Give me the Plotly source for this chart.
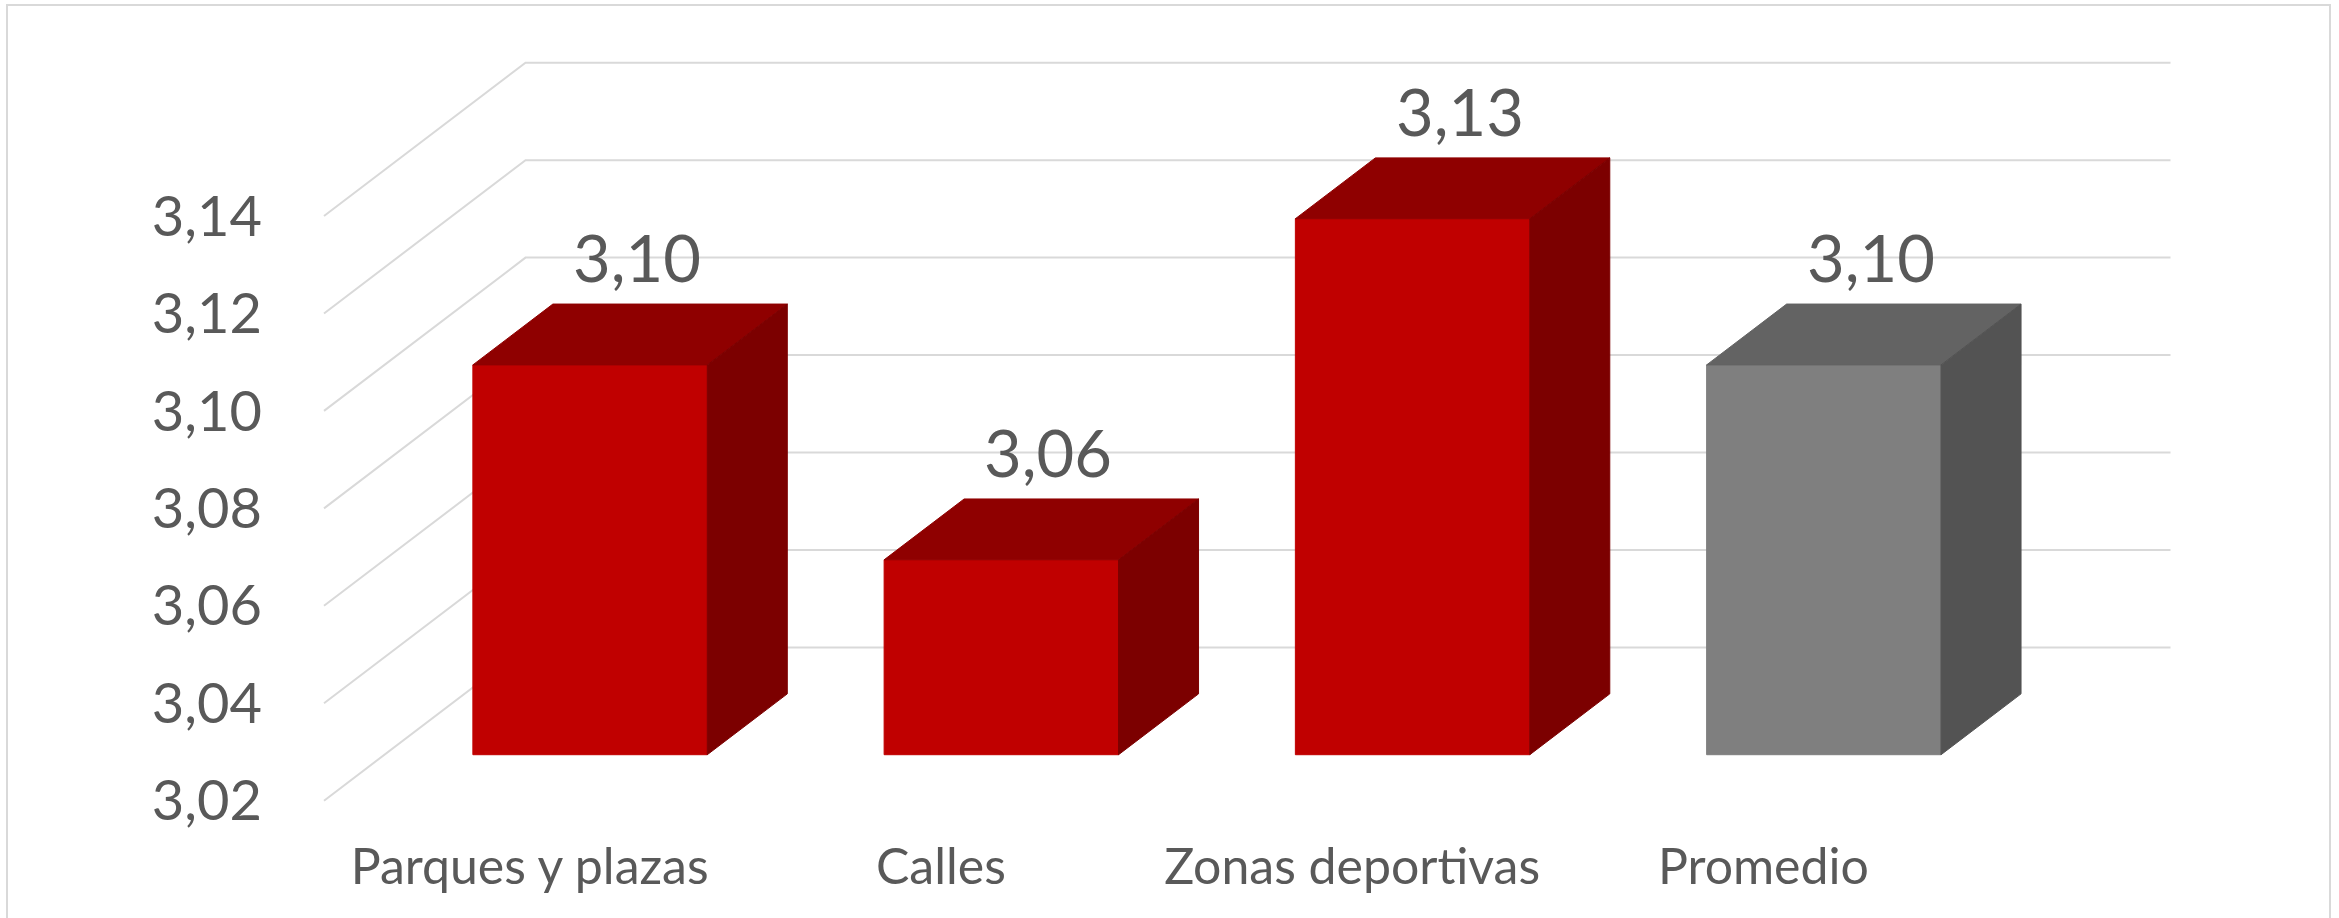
import plotly.graph_objects as go

categories = ["Parques y plazas", "Calles", "Zonas deportivas", "Promedio"]
values = [3.10, 3.06, 3.13, 3.10]
front_colors = ["#C00000", "#C00000", "#C00000", "#7F7F7F"]
top_colors = ["#8F0000", "#8F0000", "#8F0000", "#636363"]
side_colors = ["#7C0000", "#7C0000", "#7C0000", "#535353"]
y_ticks = [3.02, 3.04, 3.06, 3.08, 3.10, 3.12, 3.14]

BASE = 3.02
# oblique "3d" projection: offset of the back wall from the front edge, in axis units
DEPTH_X = 0.49
DEPTH_Y = 0.03146
BAR_FRONT = 0.30   # depth fraction where the bar front face sits
BAR_BACK = 0.697
BAR_WIDTH = 0.57

TEXT = "#595959"
GRID = "#D9D9D9"
FONT = "Lato"

# page / plot area in pixels, used to pick the axis ranges
W, H = 2339, 918
PLOT_L, PLOT_R, PLOT_T, PLOT_B = 300, 2199, 40, 828
FLOOR_X0, FLOOR_Y0 = 324, 800.7
PX_CAT, PX_VAL = 411.25, 4872.5

fig = go.Figure()

# wall gridlines: diagonal on the side wall, then flat along the back wall
n = len(categories)
for v in y_ticks:
    fig.add_trace(go.Scatter(
        x=[0, DEPTH_X, n + DEPTH_X],
        y=[v, v + DEPTH_Y, v + DEPTH_Y],
        mode="lines", line=dict(color=GRID, width=2),
        hoverinfo="skip", showlegend=False))


def face(xs, ys, color):
    fig.add_trace(go.Scatter(
        x=xs + [xs[0]], y=ys + [ys[0]], mode="lines", fill="toself",
        fillcolor=color, line=dict(color=color, width=1),
        hoverinfo="skip", showlegend=False))


for i, v in enumerate(values):
    xl = i + 0.5 - BAR_WIDTH / 2
    xr = i + 0.5 + BAR_WIDTH / 2
    fx0, fy0 = BAR_FRONT * DEPTH_X, BAR_FRONT * DEPTH_Y
    bx0, by0 = BAR_BACK * DEPTH_X, BAR_BACK * DEPTH_Y
    # front
    face([xl + fx0, xr + fx0, xr + fx0, xl + fx0],
         [BASE + fy0, BASE + fy0, v + fy0, v + fy0], front_colors[i])
    # top
    face([xl + fx0, xr + fx0, xr + bx0, xl + bx0],
         [v + fy0, v + fy0, v + by0, v + by0], top_colors[i])
    # right side
    face([xr + fx0, xr + bx0, xr + bx0, xr + fx0],
         [BASE + fy0, BASE + by0, v + by0, v + fy0], side_colors[i])
    # value label above the top face
    fig.add_annotation(
        x=i + 0.5 + (BAR_FRONT + BAR_BACK) / 2 * DEPTH_X, y=v + by0,
        text=f"{v:.2f}".replace(".", ","), showarrow=False,
        xanchor="center", yanchor="bottom", xshift=7, yshift=6,
        font=dict(family=FONT, size=65, color=TEXT))

xrange = [(PLOT_L - FLOOR_X0) / PX_CAT, (PLOT_R - FLOOR_X0) / PX_CAT]
yrange = [BASE - (PLOT_B - FLOOR_Y0) / PX_VAL, BASE + (FLOOR_Y0 - PLOT_T) / PX_VAL]

# outer chart border, given in page pixels and turned into plot-area fractions
pw, ph = PLOT_R - PLOT_L, PLOT_B - PLOT_T
border = dict(x0=(7 - PLOT_L) / pw, x1=(2330 - PLOT_L) / pw,
              y0=(PLOT_B - 930) / ph, y1=(PLOT_B - 5) / ph)

fig.update_layout(
    width=W, height=H, autosize=False,
    margin=dict(l=PLOT_L, r=W - PLOT_R, t=PLOT_T, b=H - PLOT_B, pad=0),
    paper_bgcolor="white", plot_bgcolor="white",
    separators=",.",
    xaxis=dict(range=xrange, tickvals=[i + 0.5 for i in range(n)], ticktext=categories,
               showgrid=False, zeroline=False, showline=False, ticks="",
               ticklabelstandoff=5,
               tickfont=dict(family=FONT, size=50, color=TEXT), fixedrange=True),
    yaxis=dict(range=yrange, tickvals=y_ticks, tickformat=".2f",
               showgrid=False, zeroline=False, showline=False, ticks="",
               ticklabelstandoff=37,
               tickfont=dict(family=FONT, size=56, color=TEXT), fixedrange=True),
    shapes=[dict(type="rect", xref="paper", yref="paper", layer="below",
                 line=dict(color=GRID, width=2), **border)],
)

fig.write_html("out.html", config={"displayModeBar": False},
               post_script="document.body.style.margin='0';")
